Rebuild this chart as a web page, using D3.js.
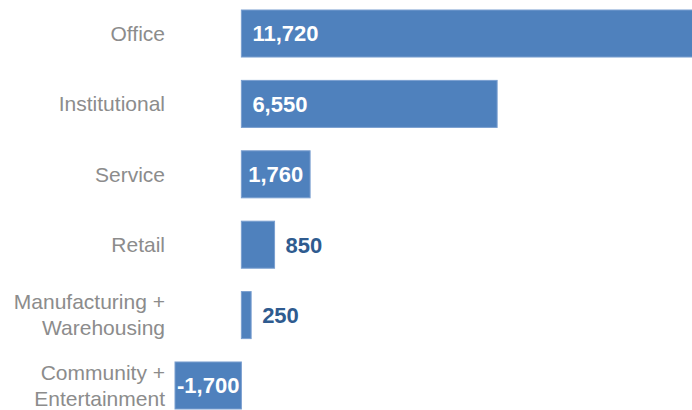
<!DOCTYPE html>
<html>
<head>
<meta charset="utf-8">
<script src="https://cdn.jsdelivr.net/npm/d3@7"></script>
<style>
  html, body { margin: 0; padding: 0; background: #fff; }
  svg { display: block; font-family: "Liberation Sans", Arial, sans-serif; }
</style>
</head>
<body>
<svg id="chart" width="692" height="410"></svg>
<script>
// Net change by building type
const categories = [
  ["Office"],
  ["Institutional"],
  ["Service"],
  ["Retail"],
  ["Manufacturing +", "Warehousing"],
  ["Community +", "Entertainment"]
];
const values = [11720, 6550, 1760, 850, 250, -1700];

const width = 692, height = 410;
const svg = d3.select("#chart");

const x = d3.scaleLinear()
  .domain([-1700, 11720])
  .range([175, 699]);

const y = d3.scaleBand()
  .domain(d3.range(values.length))
  .range([0, 419])
  .paddingInner(0.332)
  .paddingOuter(0.142);

// Thousands separator with a plain hyphen for negatives
const fmt = d => d3.format(",")(d).replace("\u2212", "-");
const plot = svg.append("g");

// Bars
plot.selectAll("rect.bar")
  .data(values)
  .join("rect")
  .attr("class", "bar")
  .attr("x", d => x(Math.min(0, d)))
  .attr("y", (d, i) => y(i))
  .attr("width", d => Math.abs(x(d) - x(0)))
  .attr("height", y.bandwidth())
  .attr("fill", "#4f81bd")
  .attr("stroke", "#7a9fd0")
  .attr("stroke-width", 1);

// Value labels: inside the bar when it fits, otherwise just past its end
const labels = plot.selectAll("text.value")
  .data(values)
  .join("text")
  .attr("class", "value")
  .attr("y", (d, i) => y(i) + y.bandwidth() / 2)
  .attr("dy", "0.36em")
  .attr("font-size", 22)
  .attr("font-weight", "bold")
  .text(d => fmt(d));

labels.each(function(d) {
  const t = d3.select(this);
  const w = this.getComputedTextLength();
  const x0 = x(Math.min(0, d));
  const bw = Math.abs(x(d) - x(0));
  if (w + 2 <= bw) {
    t.attr("x", x0 + Math.min(11, (bw - w) / 2)).attr("fill", "#ffffff");
  } else {
    t.attr("x", x(d) + 11).attr("fill", "#2f5b8f");
  }
});

// Category labels
const cat = svg.append("g")
  .selectAll("text")
  .data(categories)
  .join("text")
  .attr("text-anchor", "end")
  .attr("font-size", 21)
  .attr("fill", "#8c8c8c")
  .attr("transform", (d, i) => `translate(165,${y(i) + y.bandwidth() / 2})`);

cat.each(function(lines) {
  const t = d3.select(this);
  const lh = 26;
  const off = -(lines.length - 1) * lh / 2;
  lines.forEach((ln, j) => {
    t.append("tspan")
      .attr("x", 0)
      .attr("y", off + j * lh)
      .attr("dy", "0.35em")
      .text(ln);
  });
});
</script>
</body>
</html>
